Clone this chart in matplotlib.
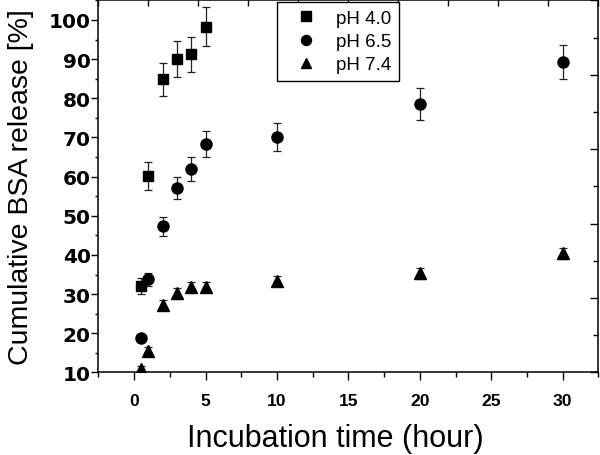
import matplotlib
matplotlib.use('Agg')
import matplotlib.pyplot as plt
from matplotlib.lines import Line2D
from matplotlib.ticker import MultipleLocator

plt.rcParams['font.family'] = ['Liberation Sans', 'DejaVu Sans']

# Release data (time in hours, release in %)
time_ph40 = [0.5, 1, 2, 3, 4, 5]
rel_ph40 = [32.1, 60.2, 84.8, 90.0, 91.2, 98.3]
err_ph40 = [2.1, 3.5, 4.2, 4.6, 4.5, 5.0]

time_ph65 = [0.5, 1, 2, 3, 4, 5, 10, 20, 30]
rel_ph65 = [18.8, 33.8, 47.3, 57.1, 62.0, 68.3, 70.1, 78.5, 89.3]
err_ph65 = [0.8, 1.6, 2.5, 2.8, 3.1, 3.4, 3.5, 4.0, 4.4]

time_ph74 = [0.5, 1, 2, 3, 4, 5, 10, 20, 30]
rel_ph74 = [10.9, 15.4, 27.3, 30.2, 31.8, 31.8, 33.4, 35.3, 40.4]
err_ph74 = [0.8, 1.2, 1.3, 1.4, 1.3, 1.3, 1.2, 1.4, 1.5]

series = [
    ('pH 4.0', time_ph40, rel_ph40, err_ph40, 's', 7.5),
    ('pH 6.5', time_ph65, rel_ph65, err_ph65, 'o', 8.0),
    ('pH 7.4', time_ph74, rel_ph74, err_ph74, '^', 8.5),
]

fig = plt.figure(figsize=(6, 4.56), dpi=100)
pos = [0.164, 0.181, 0.8333, 0.816]

# overlay axes for the top/right ticks (different spacing than bottom/left)
ax2 = fig.add_axes(pos, frameon=False, zorder=0)
ax2.set_xlim(0, 10)
ax2.set_ylim(0, 10)
ax2.xaxis.set_major_locator(MultipleLocator(1))
ax2.yaxis.set_major_locator(MultipleLocator(2))
ax2.yaxis.set_minor_locator(MultipleLocator(1))
ax2.tick_params(axis='x', which='both', top=True, bottom=False, labeltop=False,
                labelbottom=False, direction='in', length=4.5, width=1.0)
ax2.tick_params(axis='y', which='major', right=True, left=False, labelright=False,
                labelleft=False, direction='in', length=6, width=1.0)
ax2.tick_params(axis='y', which='minor', right=True, left=False,
                direction='in', length=3.5, width=1.0)

ax = fig.add_axes(pos, zorder=1)
ax.patch.set_visible(False)

handles = []
for label, t, r, e, m, ms in series:
    ax.errorbar(t, r, yerr=e, fmt=m, color='black', markersize=ms,
                ecolor='#222222', elinewidth=0.9, capsize=2.6, capthick=0.9)
    handles.append(Line2D([], [], linestyle='none', marker=m, color='black',
                          markersize=ms - 0.8, label=label))

ax.set_xlim(-2.5, 32.5)
ax.set_ylim(10, 105)
ax.xaxis.set_major_locator(MultipleLocator(5))
ax.xaxis.set_minor_locator(MultipleLocator(2.5))
ax.yaxis.set_major_locator(MultipleLocator(10))
ax.yaxis.set_minor_locator(MultipleLocator(5))

ax.tick_params(axis='both', which='both', direction='out', top=False, right=False, width=1.0)
ax.tick_params(axis='x', which='major', length=5.5, pad=9)
ax.tick_params(axis='x', which='minor', length=3.5)
ax.tick_params(axis='y', which='major', length=5, pad=0.5)
ax.tick_params(axis='y', which='minor', length=2.5)

for lab in ax.get_xticklabels():
    lab.set_fontsize(12.6)
    lab.set_fontweight('bold')
for lab in ax.get_yticklabels():
    lab.set_fontsize(14.5)
    lab.set_fontweight('bold')
    lab.set_family('DejaVu Sans')

for s in ax.spines.values():
    s.set_linewidth(1.1)

ax.set_xlabel('Incubation time (hour)', fontsize=22)
ax.xaxis.set_label_coords(0.473, -0.135)
ax.set_ylabel('Cumulative BSA release [%]', fontsize=20.5)
ax.yaxis.set_label_coords(-0.128, 0.5)

leg = ax.legend(handles=handles, loc='upper left', bbox_to_anchor=(0.358, 0.995),
                borderaxespad=0, fontsize=13.5, frameon=True, fancybox=False,
                edgecolor='black', framealpha=1, handlelength=2.3,
                handletextpad=0.45, borderpad=0.4, labelspacing=0.33)
leg.get_frame().set_linewidth(1.0)

fig.savefig('out.png', dpi=100)
